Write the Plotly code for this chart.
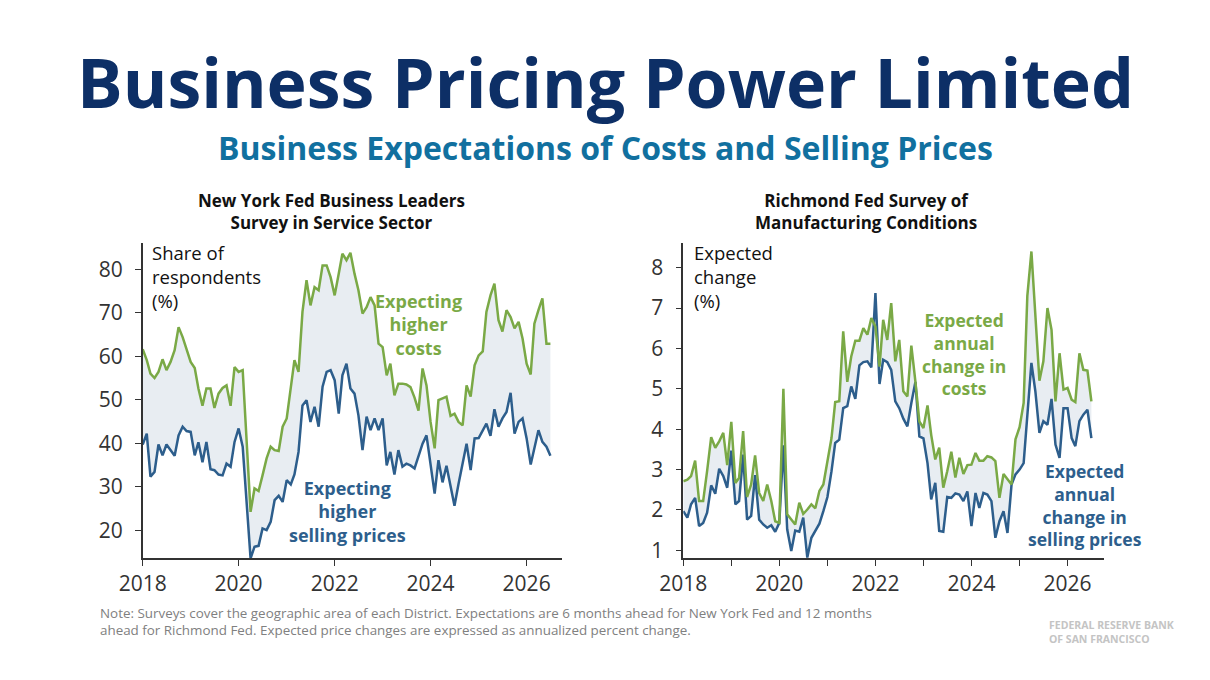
import pandas as pd
import plotly.graph_objects as go

# Monthly data, Jan 2018 - Jul 2026
months = pd.date_range("2018-01-01", periods=103, freq="MS")

# New York Fed Business Leaders Survey (share of respondents, %)
nyf_costs = [61.6, 59.1, 56.0, 55.0, 56.4, 59.3, 56.8, 58.7, 61.4, 66.7, 64.4, 61.8,
             58.7, 57.3, 52.6, 48.6, 52.6, 52.6, 48.1, 51.4, 52.7, 53.3, 48.6, 57.5,
             56.4, 56.8, 40.0, 24.2, 29.6, 29.0, 32.6, 36.5, 39.2, 38.4, 38.2,
             43.8, 45.7, 52.6, 59.1, 56.4, 70.2, 77.5, 71.7, 75.9, 75.2, 80.9, 80.9,
             78.2, 74.0, 79.0, 83.6, 82.1, 83.8, 79.0, 75.2, 69.8, 71.3, 73.6, 71.7,
             62.9, 62.1, 55.6, 58.3, 51.0, 53.7, 53.7, 53.5, 52.9, 50.5, 47.5,
             57.2, 53.3, 44.9, 38.8, 49.9, 50.3, 50.7, 46.3, 46.8, 44.9, 44.1, 53.3,
             50.7, 57.9, 60.2, 61.1, 70.2, 74.0, 76.7, 68.3, 65.7, 70.6, 69.0, 66.4,
             67.9, 64.1, 58.3, 55.8, 67.5, 70.6, 73.3, 62.9, 62.9]
nyf_prices = [39.7, 42.2, 32.3, 33.4, 39.7, 37.2, 39.7, 38.4, 37.1, 41.8, 43.8, 42.8,
              42.6, 37.2, 40.2, 35.6, 40.3, 34.0, 33.8, 32.8, 32.6, 35.3, 34.6, 40.3,
              43.4, 39.2, 27.3, 13.5, 16.2, 16.4, 20.4, 20.0, 21.9, 26.9, 27.9,
              26.5, 31.5, 30.5, 32.8, 38.0, 48.7, 49.9, 44.9, 48.4, 43.8, 53.0, 56.4,
              56.8, 54.5, 46.8, 55.6, 58.3, 52.6, 51.4, 46.4, 38.4, 46.1, 43.0, 45.7,
              43.0, 45.7, 34.9, 38.0, 32.8, 38.4, 34.6, 35.3, 34.9, 34.2, 37.2,
              39.9, 41.8, 34.9, 28.4, 36.1, 31.0, 34.8, 30.3, 25.6, 30.7, 35.3, 39.9,
              33.8, 41.1, 41.2, 43.0, 44.5, 41.7, 47.8, 43.8, 45.7, 47.2, 51.6, 42.2,
              44.9, 45.7, 41.1, 35.1, 38.8, 43.0, 40.3, 39.2, 37.1]

# Richmond Fed Survey of Manufacturing Conditions (expected change, %)
rich_costs = [2.71, 2.75, 2.84, 3.22, 2.22, 2.22, 2.96, 3.80, 3.54, 3.70, 3.91, 3.11,
              4.18, 2.67, 2.79, 3.95, 2.32, 2.63, 3.35, 2.42, 2.22, 2.63, 2.22, 1.72,
              1.68, 5.00, 1.89, 1.76, 1.64, 2.18, 1.90, 2.01, 2.14, 2.04, 2.47,
              2.63, 3.21, 3.78, 4.67, 4.69, 6.42, 5.17, 5.80, 6.19, 6.19, 6.50, 6.34,
              6.75, 6.54, 5.55, 6.71, 6.21, 7.12, 5.68, 6.21, 4.94, 4.81, 6.07, 5.18,
              4.19, 4.03, 4.59, 3.86, 3.25, 3.54, 2.55, 2.96, 3.44, 2.80,
              3.29, 2.89, 3.11, 3.12, 3.41, 3.22, 3.22, 3.33, 3.30, 3.21, 2.30, 2.89,
              2.75, 2.63, 3.75, 4.05, 4.65, 7.30, 8.40, 6.80, 5.20, 5.68, 7.00, 6.46,
              4.69, 5.88, 4.98, 5.02, 4.73, 4.67, 5.88, 5.47, 5.45, 4.69]
rich_prices = [1.97, 1.81, 2.14, 2.30, 1.60, 1.68, 1.93, 2.61, 2.40, 3.02, 2.84, 2.55,
               3.47, 2.14, 2.22, 3.37, 1.76, 1.85, 2.86, 1.76, 1.64, 1.56, 1.62, 1.46,
               1.68, 3.60, 1.52, 0.98, 1.49, 1.46, 1.81, 0.82, 1.31, 1.48, 1.66,
               1.97, 2.32, 2.96, 3.66, 3.74, 4.52, 4.57, 5.06, 4.75, 5.58, 5.66, 5.68,
               5.53, 7.37, 5.12, 5.72, 5.66, 5.47, 4.69, 4.52, 4.26, 4.07, 4.65, 5.17,
               3.82, 3.77, 3.16, 2.26, 2.67, 1.48, 1.46, 2.32, 2.30, 2.41,
               2.38, 2.22, 2.46, 1.60, 2.42, 2.05, 2.42, 2.38, 2.22, 1.31, 1.72, 1.97,
               1.43, 2.63, 2.88, 3.00, 3.16, 4.28, 5.64, 4.94, 3.91, 4.20, 4.11, 4.75,
               3.62, 3.29, 4.52, 4.52, 3.78, 3.58, 4.20, 4.36, 4.48, 3.78]

year_ticks = ["2018", "2020", "2022", "2024", "2026"]
nyf_yticks = [20, 30, 40, 50, 60, 70, 80]
rich_yticks = [1, 2, 3, 4, 5, 6, 7, 8]

W, H = 1210, 680
L, R, T, B = 80, 80, 20, 80
OFF = 8  # page body margin in the browser
GREEN = "#7aa946"
BLUE = "#2d5e8c"
FILL = "#e8edf2"
FONT = "Open Sans"


# pixel position on the screen -> paper fraction
def px(x):
    return (x - OFF - L) / (W - L - R)


def py(y):
    return 1 - (y - OFF - T) / (H - T - B)


fig = go.Figure()

for xa, ya, prices, costs in [("x", "y", nyf_prices, nyf_costs),
                              ("x2", "y2", rich_prices, rich_costs)]:
    fig.add_trace(go.Scatter(x=months, y=prices, xaxis=xa, yaxis=ya, mode="lines",
                             line=dict(color=BLUE, width=2.5), showlegend=False))
    fig.add_trace(go.Scatter(x=months, y=costs, xaxis=xa, yaxis=ya, mode="lines",
                             line=dict(color=GREEN, width=2.5), fill="tonexty",
                             fillcolor=FILL, showlegend=False))

axis_common = dict(showline=True, linecolor="#333333", linewidth=1.5, ticks="outside",
                   tickcolor="#333333", ticklen=6, tickwidth=1.2, showgrid=False,
                   zeroline=False, automargin=False,
                   tickfont=dict(family=FONT, size=21, color="#333333"))

fig.update_layout(
    width=W, height=H,
    margin=dict(l=L, r=R, t=T, b=B),
    paper_bgcolor="white", plot_bgcolor="white",
    font=dict(family=FONT),
    xaxis=dict(domain=[px(142.7), px(561.7)], range=["2018-01-01", "2026-09-25"],
               tickvals=[f"{y}-01-01" for y in year_ticks], ticktext=year_ticks,
               anchor="y", **axis_common),
    yaxis=dict(domain=[py(558), py(243)], range=[13.6, 86.05], tickvals=nyf_yticks,
               anchor="x", ticklabelstandoff=8, **axis_common),
    xaxis2=dict(domain=[px(683.3), px(1104)], range=["2018-01-01", "2026-10-05"],
                tickvals=[f"{y}-01-01" for y in year_ticks], ticktext=year_ticks,
                minor=dict(dtick="M12", ticks="outside", ticklen=6, tickcolor="#333333",
                           tick0="2018-01-01"),
                anchor="y2", **axis_common),
    yaxis2=dict(domain=[py(558), py(243)], range=[0.81, 8.61], tickvals=rich_yticks,
                anchor="x2", ticklabelstandoff=8, **axis_common),
)


# text block centred vertically on y (screen pixels)
def note(lines, x, y, size, color, bold=False, xanchor="center"):
    text = "<br>".join(lines)
    if bold:
        text = "<b>" + text + "</b>"
    fig.add_annotation(text=text, x=px(x), y=py(y), xref="paper", yref="paper",
                       xanchor=xanchor, yanchor="middle", align=xanchor, showarrow=False,
                       font=dict(family=FONT, size=size, color=color))


note(["Business Pricing Power Limited"], 605, 82, 68, "#0d2f66", bold=True)
note(["Business Expectations of Costs and Selling Prices"], 605, 147, 32, "#11709f", bold=True)
note(["New York Fed Business Leaders", "Survey in Service Sector"], 331, 212, 17,
     "#111111", bold=True)
note(["Richmond Fed Survey of", "Manufacturing Conditions"], 866, 212, 17,
     "#111111", bold=True)

note(["Share of", "respondents", "(%)"], 150, 276, 18.5, "#111111", xanchor="left")
note(["Expected", "change", "(%)"], 692, 276, 18.5, "#111111", xanchor="left")

note(["Expecting", "higher", "costs"], 418, 324, 18, GREEN, bold=True)
note(["Expecting", "higher", "selling prices"], 347, 511, 18, BLUE, bold=True)
note(["Expected", "annual", "change in", "costs"], 964, 354, 17.5, GREEN, bold=True)
note(["Expected", "annual", "change in", "selling prices"], 1085, 505, 17.5, BLUE,
     bold=True)

note(["Note: Surveys cover the geographic area of each District. Expectations are 6 months "
      "ahead for New York Fed and 12 months",
      "ahead for Richmond Fed. Expected price changes are expressed as annualized "
      "percent change."], 98, 621, 13.4, "#808080", xanchor="left")
note(["FEDERAL RESERVE BANK", "OF SAN FRANCISCO"], 1047, 632, 10.5, "#c4c4c4",
     bold=True, xanchor="left")

fig.write_html("out.html")
